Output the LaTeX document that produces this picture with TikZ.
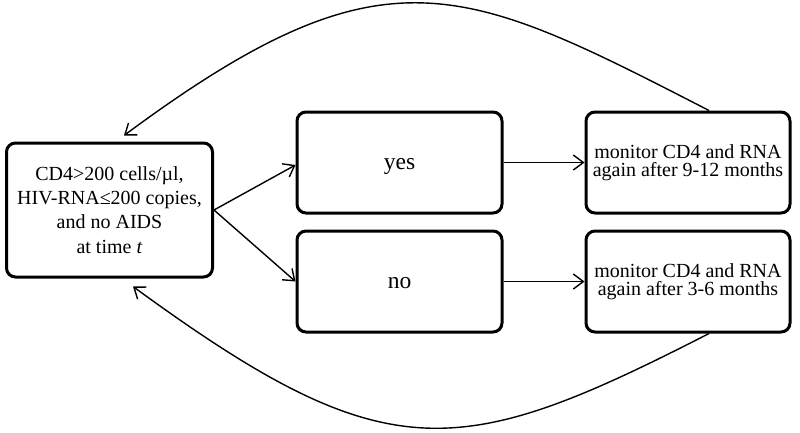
\documentclass[tikz,border=0pt]{standalone}
\usepackage{fontspec}
\setmainfont{Liberation Serif}
\usetikzlibrary{arrows.meta}
\begin{document}
\begin{tikzpicture}[x=1pt,y=-1pt,
  box/.style={draw=black,line width=3pt,rounded corners=9pt,align=center,inner sep=0pt},
  conn/.style={line width=1.4pt,-{Straight Barb[length=10pt,width=15pt,line width=1.4pt]}},
  txt/.style={font=\fontsize{20}{18.5}\selectfont},
  big/.style={font=\fontsize{23.5}{26}\selectfont,text height=14pt,text depth=0pt}]
\useasboundingbox (0,0) rectangle (800,432);
\node[box,minimum width=206pt,minimum height=134pt,font=\fontsize{20}{24.3}\selectfont] (cond) at (109.5,210)
  {CD4>200 cells/µl,\\HIV-RNA≤200 copies,\\and no AIDS\\at time \textit{t}};
\node[box,minimum width=205pt,minimum height=101pt,big] (yes) at (399.5,162.5) {yes};
\node[box,minimum width=205pt,minimum height=101pt,big] (no) at (399.5,281.5) {no};
\node[box,minimum width=204pt,minimum height=101pt,txt] (rt) at (688,162.5) {monitor CD4 and RNA\\again after 9-12 months};
\node[box,minimum width=204pt,minimum height=101pt,txt] (rb) at (688,281.5) {monitor CD4 and RNA\\again after 3-6 months};
\draw[conn] (cond.east) -- ([yshift=-2.5pt]yes.west);
\draw[conn] (cond.east) -- (no.west);
\draw[conn] (yes.east) -- (rt.west);
\draw[conn] (no.east) -- (rb.west);
\draw[conn] ([xshift=21pt]rt.north) .. controls (461,-17) and (384,-57) .. ([xshift=14.5pt,yshift=6pt]cond.north);
\draw[conn] ([xshift=21pt]rb.south) .. controls (458,462) and (387,472) .. ([xshift=23.5pt,yshift=-8pt]cond.south);
\end{tikzpicture}
\end{document}
